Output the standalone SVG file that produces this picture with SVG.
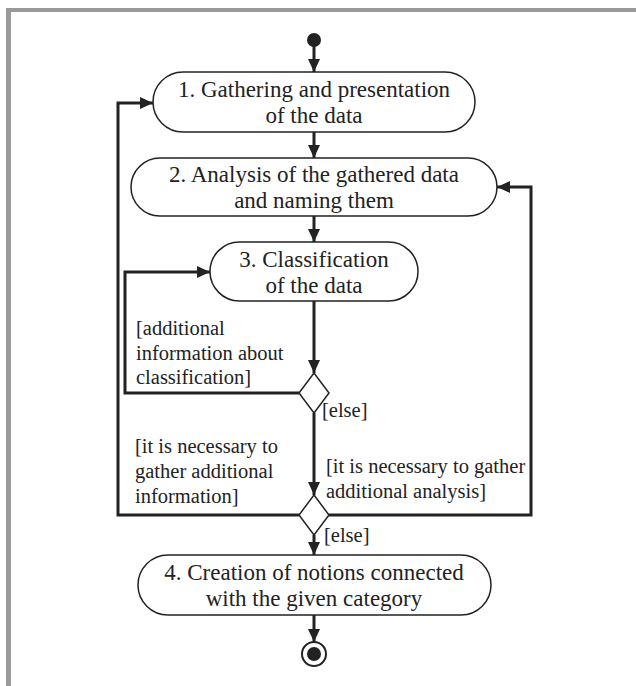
<svg xmlns="http://www.w3.org/2000/svg" width="636" height="686" viewBox="0 0 636 686">
<defs>
<style>
.node{fill:#fff;stroke:#222;stroke-width:1.5}
.t{font-family:"Liberation Serif","Times New Roman",serif;font-size:23px;fill:#222}
.l{font-family:"Liberation Serif","Times New Roman",serif;font-size:20.5px;fill:#222}
.c{text-anchor:middle}
.ln{fill:none;stroke:#222;stroke-width:3}
</style>
<marker id="ah" viewBox="0 0 13 12" refX="13" refY="6" markerWidth="13" markerHeight="12" markerUnits="userSpaceOnUse" orient="auto">
<path d="M0,0 L13,6 L0,12 z" fill="#222"/>
</marker>
</defs>
<rect x="0" y="0" width="636" height="686" fill="#fff"/>
<rect x="6" y="8" width="630" height="4" fill="#9a9a9a"/>
<rect x="6" y="8" width="5" height="678" fill="#9a9a9a"/>

<g id="start"><circle cx="314" cy="40" r="7" fill="#222"/></g>
<g id="n1"><rect class="node" x="153" y="72" width="322" height="60" rx="30"/>
<text class="t c" x="314" y="97">1. Gathering and presentation</text>
<text class="t c" x="314" y="123">of the data</text></g>
<g id="n2"><rect class="node" x="131" y="158" width="366" height="58" rx="29"/>
<text class="t c" x="314" y="182">2. Analysis of the gathered data</text>
<text class="t c" x="314" y="208">and naming them</text></g>
<g id="n3"><rect class="node" x="210" y="242" width="208" height="59" rx="29.5"/>
<text class="t c" x="314" y="267">3. Classification</text>
<text class="t c" x="314" y="293">of the data</text></g>
<g id="d1"><path class="node" d="M314,373 L329,393 L314,413 L299,393 z"/></g>
<g id="d2"><path class="node" d="M314,495 L329,515 L314,535 L299,515 z"/></g>
<g id="n4"><rect class="node" x="138" y="555" width="353" height="60" rx="30"/>
<text class="t c" x="314" y="580">4. Creation of notions connected</text>
<text class="t c" x="314" y="606">with the given category</text></g>
<g id="end"><circle cx="314" cy="654" r="12" fill="#fff" stroke="#222" stroke-width="2"/><circle cx="314" cy="654" r="7" fill="#222"/></g>

<g id="connectors">
<line class="ln" x1="314" y1="46" x2="314" y2="72" marker-end="url(#ah)"/>
<line class="ln" x1="314" y1="132" x2="314" y2="158" marker-end="url(#ah)"/>
<line class="ln" x1="314" y1="216" x2="314" y2="242" marker-end="url(#ah)"/>
<line class="ln" x1="314" y1="301" x2="314" y2="373" marker-end="url(#ah)"/>
<polyline class="ln" points="299,393 125,393 125,272 210,272" marker-end="url(#ah)"/>
<line class="ln" x1="314" y1="413" x2="314" y2="495" marker-end="url(#ah)"/>
<polyline class="ln" points="299,515 118,515 118,103 153,103" marker-end="url(#ah)"/>
<polyline class="ln" points="329,515 531,515 531,187 497,187" marker-end="url(#ah)"/>
<line class="ln" x1="314" y1="535" x2="314" y2="555" marker-end="url(#ah)"/>
<line class="ln" x1="314" y1="615" x2="314" y2="642" marker-end="url(#ah)"/>
</g>

<g id="labels">
<text class="l" x="136" y="335">[additional</text>
<text class="l" x="136" y="360">information about</text>
<text class="l" x="136" y="384">classification]</text>
<text class="l" x="322" y="417">[else]</text>
<text class="l" x="135" y="453">[it is necessary to</text>
<text class="l" x="135" y="478">gather additional</text>
<text class="l" x="135" y="503">information]</text>
<text class="l" x="326" y="473">[it is necessary to gather</text>
<text class="l" x="326" y="498">additional analysis]</text>
<text class="l" x="324" y="542">[else]</text>
</g>
</svg>
